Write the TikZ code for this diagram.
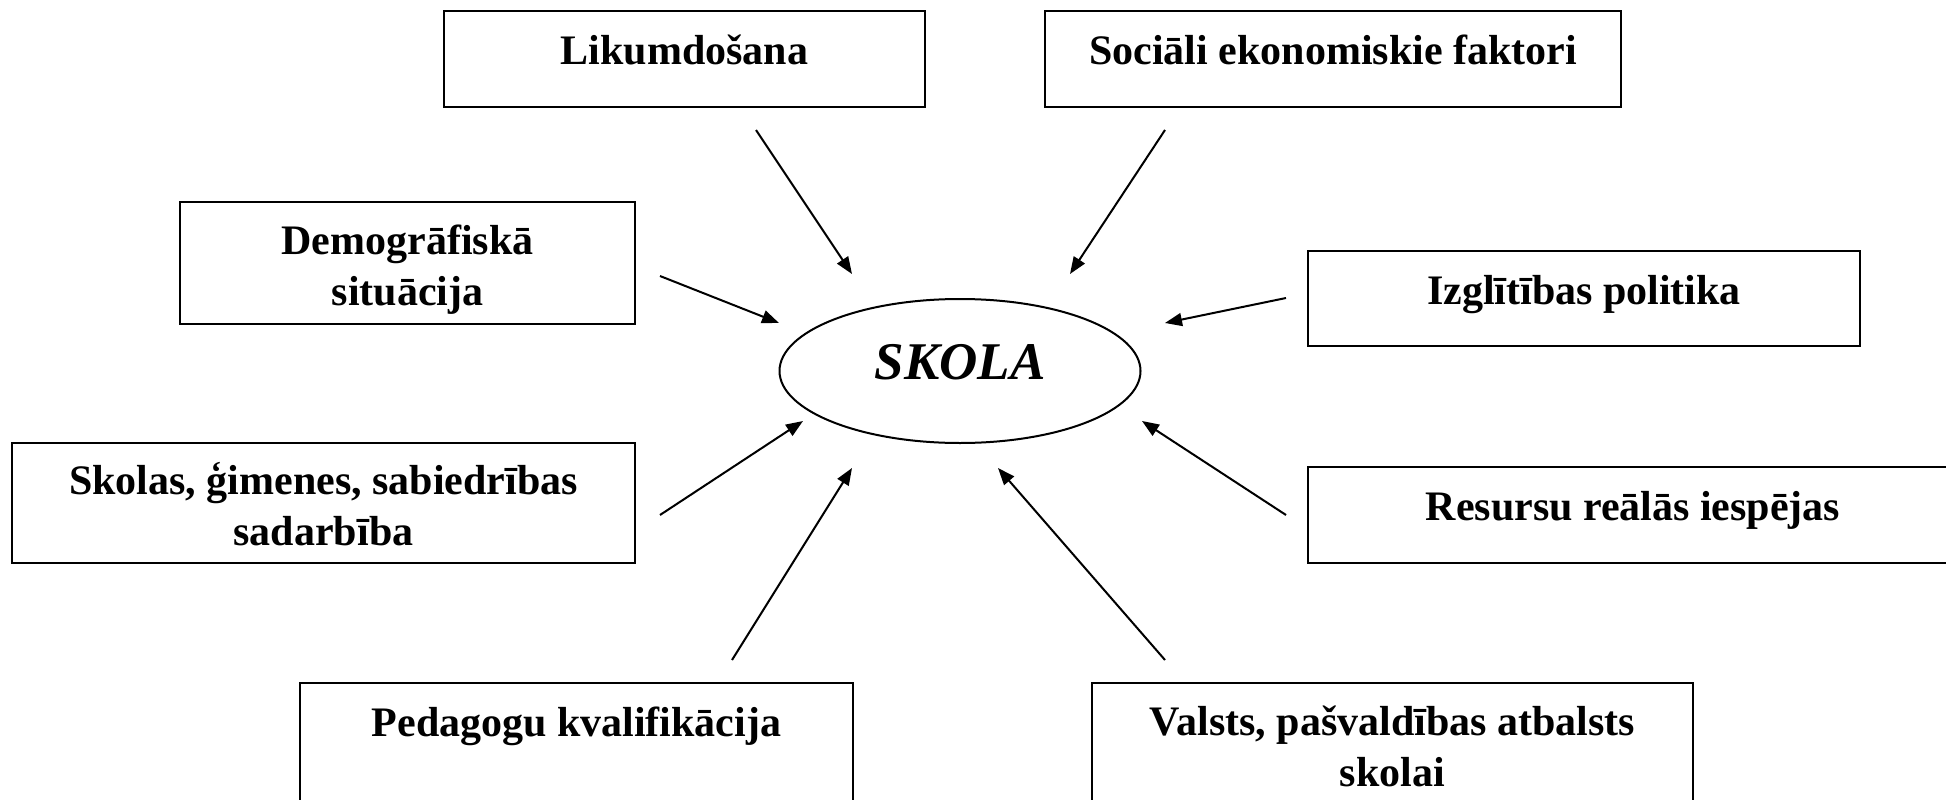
\documentclass[tikz,border=0pt]{standalone}
\usepackage{fontspec}
\setmainfont{Liberation Serif}
\usetikzlibrary{arrows.meta,fit,shapes.geometric}
\tikzset{
  box/.style={draw=black, line width=2.4pt, rectangle, inner sep=0pt, outer sep=0pt},
  lbl/.style={font=\fontsize{42}{51}\selectfont\bfseries, align=center, anchor=base, inner sep=0pt},
  arr/.style={line width=2pt, -{Triangle[length=17pt,width=13pt]}},
}
\newcommand{\mkbox}[5]{% name, x1, y1, x2, y2
  \path (#2,#3) coordinate (#1-nw) (#4,#5) coordinate (#1-se);
  \node[box, fit=(#1-nw)(#1-se)] (#1) {};
}
\begin{document}
\begin{tikzpicture}[x=1pt,y=-1pt]
\useasboundingbox (0,0) rectangle (1946,800);
\fill[white] (0,0) rectangle (1946,800);
% boxes
\mkbox{lik}{444}{11}{925}{107}
\mkbox{soc}{1045}{11}{1621}{107}
\mkbox{dem}{180}{202}{635}{324}
\mkbox{izg}{1308}{251}{1860}{346}
\mkbox{sko}{12}{443}{635}{563}
\mkbox{res}{1308}{467}{1990}{563}
\mkbox{ped}{300}{683}{853}{830}
\mkbox{val}{1092}{683}{1693}{830}
\coordinate (rx) at (1633,0);
% texts
\node[lbl, yshift=-53pt] (tlik) at (lik.north) {Likumdošana};
\node[lbl, yshift=-53pt] (tsoc) at (soc.north) {Sociāli ekonomiskie faktori};
\node[lbl, yshift=-103pt] (tdem) at (dem.north) {Demogrāfiskā\\situācija};
\node[lbl, yshift=-53pt] (tizg) at (izg.north) {Izglītības politika};
\node[lbl, yshift=-102pt] (tsko) at (sko.north) {Skolas, ģimenes, sabiedrības\\sadarbība};
\node[lbl, yshift=-53pt] (tres) at (rx |- res.north) {Resursu reālās iespējas};
\node[lbl, yshift=-53pt] (tped) at (ped.north) {Pedagogu kvalifikācija};
\node[lbl, yshift=-103pt] (tval) at (val.north) {Valsts, pašvaldības atbalsts\\skolai};
% ellipse
\node[draw, line width=2pt, ellipse, minimum width=361pt, minimum height=144pt, inner sep=0pt,
      text height=36pt, text depth=20pt,
      font=\fontsize{53}{60}\selectfont\bfseries\itshape] (skola) at (960,371) {SKOLA};
% arrow coordinates
\coordinate (s1) at (756,130);  \coordinate (e1) at (852,274);
\coordinate (s2) at (1165,130); \coordinate (e2) at (1070,274);
\coordinate (s3) at (660,276);  \coordinate (e3) at (779,323);
\coordinate (s4) at (1286,298); \coordinate (e4) at (1165,323);
\coordinate (s5) at (660,515);  \coordinate (e5) at (803,421);
\coordinate (s6) at (1286,515); \coordinate (e6) at (1142,421);
\coordinate (s7) at (732,660);  \coordinate (e7) at (852,468);
\coordinate (s8) at (1165,660); \coordinate (e8) at (998,468);
\foreach \i in {1,...,8} { \draw[arr] (s\i) -- (e\i); }
\end{tikzpicture}
\end{document}
